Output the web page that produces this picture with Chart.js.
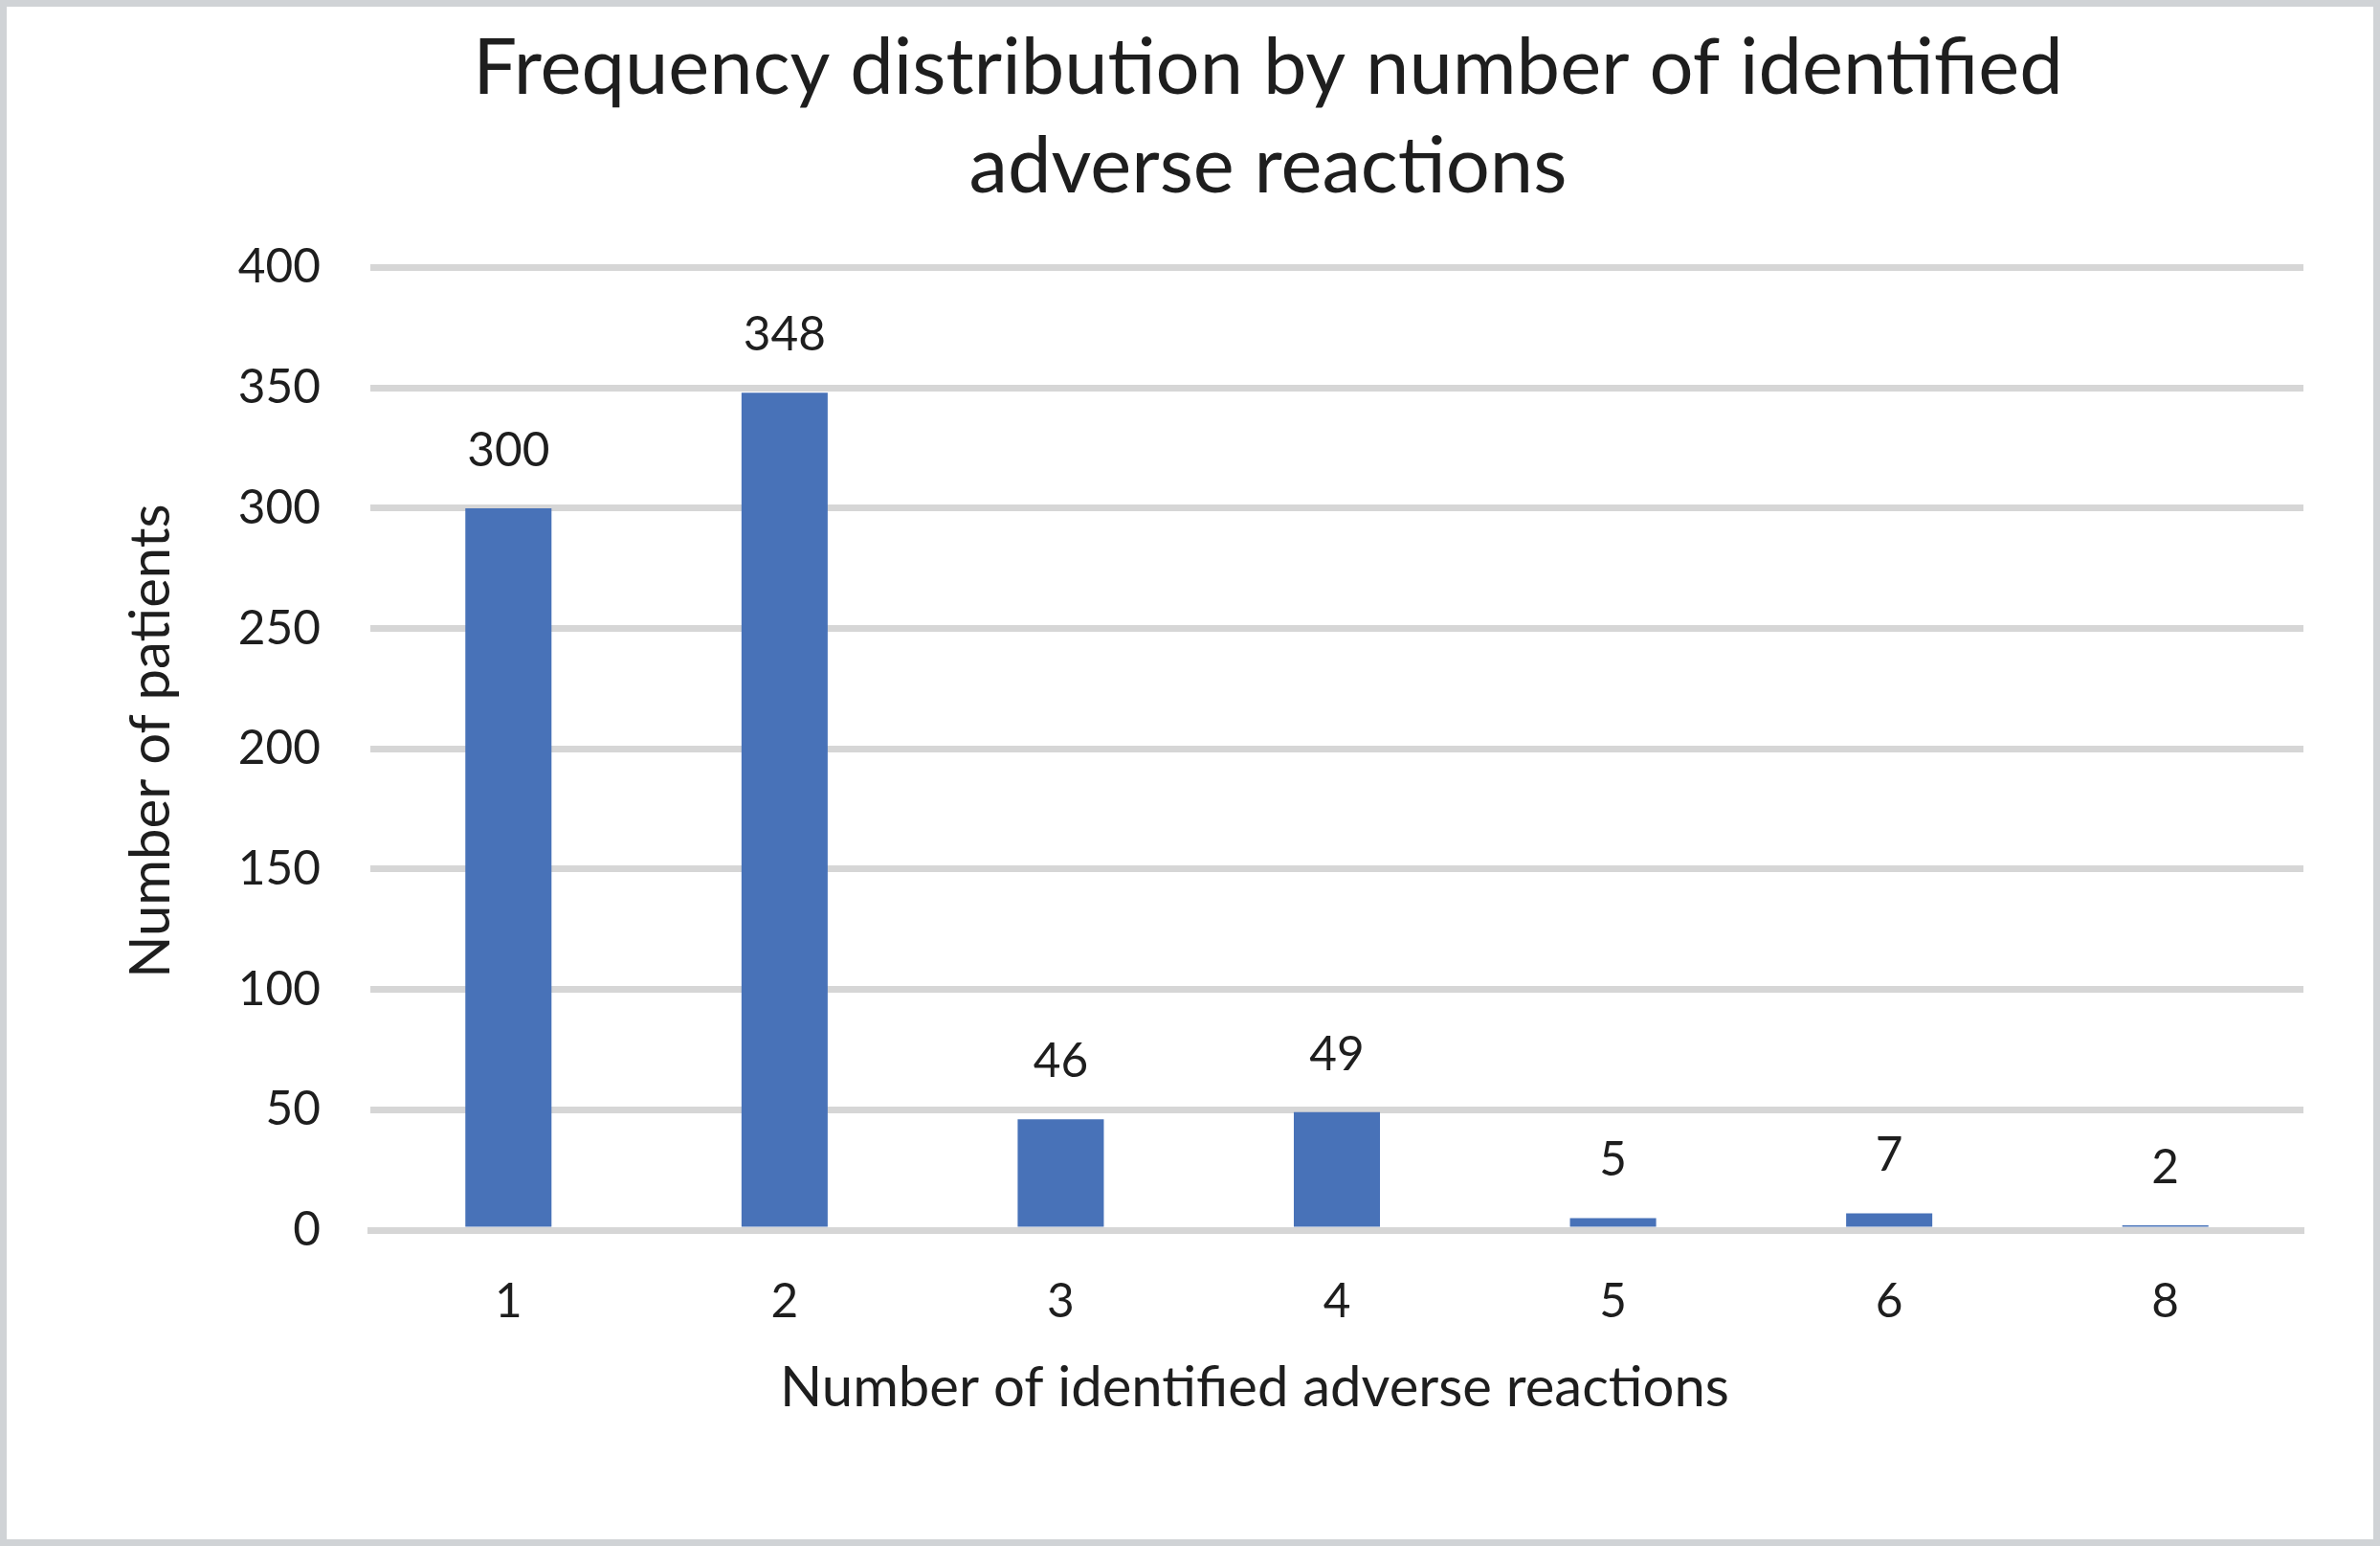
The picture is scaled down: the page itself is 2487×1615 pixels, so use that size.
<!DOCTYPE html>
<html><head><meta charset="utf-8">
<script src="https://cdn.jsdelivr.net/npm/chart.js@4"></script>
<style>
html,body{margin:0;padding:0;background:#fff;}
#wrap{width:2487px;height:1615px;box-sizing:border-box;border:7px solid #d0d3d6;background:#fff;}
canvas{display:block;}
</style></head><body>
<div id="wrap"><canvas id="c" width="2473" height="1601"></canvas></div>
<script>
const categories = ['1','2','3','4','5','6','8'];
const patients = [300, 348, 46, 49, 5, 7, 2];
const yTicks = [0, 50, 100, 150, 200, 250, 300, 350, 400];
const chartTitle = ['Frequency distribution by number of identified', 'adverse reactions'];
const xTitle = 'Number of identified adverse reactions';
const yTitle = 'Number of patients';

const TEXT = '#1e1e1e';
const GRID = '#d6d6d6';
const FONT = 'Lato';

const annot = {
  id: 'annot',
  afterDatasetsDraw(chart) {
    const ctx = chart.ctx;
    const meta = chart.getDatasetMeta(0);
    ctx.save();
    ctx.font = '49.5px ' + FONT;
    ctx.fillStyle = TEXT;
    ctx.textAlign = 'center';
    ctx.textBaseline = 'alphabetic';
    meta.data.forEach((bar, i) => {
      ctx.fillText(String(patients[i]), bar.x, bar.y - 44);
    });
    ctx.restore();
  },
  afterDraw(chart) {
    const ctx = chart.ctx;
    ctx.save();
    ctx.font = '58px ' + FONT;
    ctx.fillStyle = TEXT;
    ctx.textAlign = 'center';
    ctx.textBaseline = 'alphabetic';
    ctx.fillText(xTitle, 1304, 1462);
    ctx.translate(170, 767);
    ctx.rotate(-Math.PI / 2);
    ctx.fillText(yTitle, 0, 0);
    ctx.restore();
  }
};

new Chart(document.getElementById('c'), {
  type: 'bar',
  data: {
    labels: categories,
    datasets: [{
      data: patients,
      backgroundColor: '#4872b8',
      borderWidth: 0,
      categoryPercentage: 1,
      barPercentage: 0.312
    }]
  },
  options: {
    responsive: false,
    animation: false,
    devicePixelRatio: 1,
    layout: { padding: { left: 236, right: 73, top: 0, bottom: 0 } },
    plugins: {
      legend: { display: false },
      tooltip: { enabled: false },
      title: {
        display: true,
        text: chartTitle,
        color: TEXT,
        font: { family: FONT, size: 81.3, weight: 'normal', lineHeight: 1.267 },
        padding: { top: 13.5, bottom: 53 }
      }
    },
    scales: {
      x: {
        z: 1,
        grid: { display: false, drawTicks: false },
        border: { display: true, color: GRID, width: 7 },
        ticks: { color: TEXT, font: { family: FONT, size: 49.5 }, padding: 45 },
        afterFit(s) { s.height = 323; }
      },
      y: {
        min: 0, max: 400,
        grid: { color: GRID, lineWidth: 7, drawTicks: false },
        border: { display: false },
        ticks: { color: TEXT, font: { family: FONT, size: 49.5 }, padding: 52 },
        afterBuildTicks(s) { s.ticks = yTicks.map(v => ({ value: v })); },
        afterFit(s) { s.width = 144; }
      }
    }
  },
  plugins: [annot]
});
</script>
</body></html>
